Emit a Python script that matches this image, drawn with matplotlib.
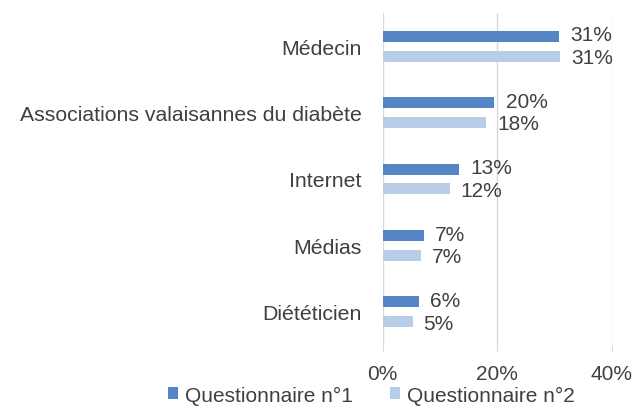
import numpy as np
import matplotlib
matplotlib.use("Agg")
import matplotlib.pyplot as plt

# data
categories = ["Médecin", "Associations valaisannes du diabète", "Internet", "Médias", "Diététicien"]
q1_values = [0.308, 0.195, 0.134, 0.072, 0.063]
q2_values = [0.309, 0.181, 0.117, 0.066, 0.052]
series_names = ["Questionnaire n°1", "Questionnaire n°2"]
x_ticks = [0.0, 0.2, 0.4]

plt.rcParams['font.family'] = ['Liberation Sans', 'DejaVu Sans']
text_col = "#404040"
col_q1 = "#5585C5"
col_q2 = "#B7CDE8"

fig = plt.figure(figsize=(6.4, 4.1), dpi=100)
ax = fig.add_axes([0.598, 0.156, 0.358, 0.81])

y = np.arange(len(categories))
h = 0.165
off = 0.15
b1 = ax.barh(y - off, q1_values, height=h, color=col_q1, label=series_names[0], zorder=3)
b2 = ax.barh(y + off, q2_values, height=h, color=col_q2, label=series_names[1], zorder=3)

# value labels; q1 nudged up a bit, q2 down, like the reference
for bars, vals, dy in ((b1, q1_values, 1), (b2, q2_values, -1)):
    for bar, v in zip(bars, vals):
        ax.annotate(f"{round(v * 100):.0f}%", (v, bar.get_y() + bar.get_height() / 2),
                    xytext=(8, dy), textcoords="offset points", va="center", ha="left",
                    fontsize=15, color=text_col)

ax.set_ylim(len(categories) - 0.5, -0.5)
ax.set_xlim(0, 0.4)
ax.set_xticks(x_ticks)
ax.set_xticklabels([f"{t * 100:.0f}%" for t in x_ticks])
ax.set_yticks(y)
ax.set_yticklabels(categories)

ax.grid(axis="x", color="#D9D9D9", linewidth=1, zorder=0)
for s in ("top", "right", "bottom", "left"):
    ax.spines[s].set_visible(False)
ax.tick_params(axis="y", length=0, pad=15, labelsize=15.3, labelcolor=text_col)
ax.tick_params(axis="x", length=5, color="#D9D9D9", pad=9, labelsize=15, labelcolor=text_col)

fig.legend(loc="lower center", bbox_to_anchor=(0.58, -0.035), ncol=2, frameon=False,
           fontsize=15, handlelength=0.5, handleheight=0.5, handletextpad=0.3,
           columnspacing=1.8, labelcolor=text_col)

fig.savefig("out.png", dpi=100)
